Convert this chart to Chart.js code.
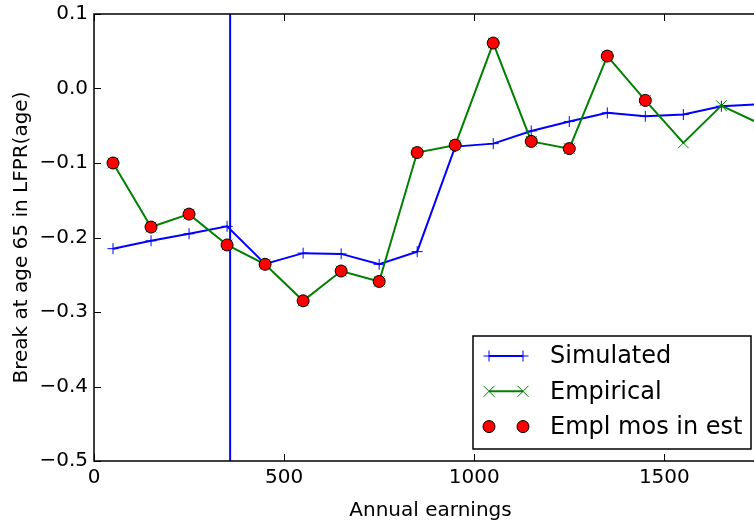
<!DOCTYPE html>
<html lang="en">
<head>
  <meta charset="UTF-8" />
  <title>Break at age 65</title>
  <script src="https://cdn.jsdelivr.net/npm/chart.js"></script>
  <style>
    html, body { margin: 0; padding: 0; background: #fff; overflow: hidden; }
    #wrap { width: 754px; height: 523px; overflow: hidden; }
    #box { width: 780px; height: 523px; }
  </style>
</head>
<body>
  <div id="wrap"><div id="box"><canvas id="chart"></canvas></div></div>

  <script>
    // earnings bins (bin midpoints)
    const earnings = [50, 150, 250, 350, 450, 550, 650, 750, 850, 950, 1050, 1150, 1250, 1350, 1450, 1550, 1650, 1750];
    const simulated = [-0.215, -0.2045, -0.195, -0.185, -0.2355, -0.221, -0.222, -0.236, -0.219, -0.078, -0.074, -0.057, -0.0444, -0.0327, -0.0372, -0.035, -0.0238, -0.021];
    const empirical = [-0.100, -0.186, -0.1686, -0.210, -0.236, -0.285, -0.245, -0.259, -0.086, -0.076, 0.061, -0.071, -0.0807, 0.0435, -0.016, -0.073, -0.023, -0.047];
    // months used in estimation: only the first 15 bins
    const inEst = [true, true, true, true, true, true, true, true, true, true, true, true, true, true, true, false, false, false];
    const vlineX = 358;
    const xTicks = [0, 500, 1000, 1500];
    const yTicks = [-0.5, -0.4, -0.3, -0.2, -0.1, 0.0, 0.1];

    const pts = (ys) => earnings.map((x, i) => ({ x: x, y: ys[i] }));
    const estPts = earnings.map((x, i) => inEst[i] ? { x: x, y: empirical[i] } : null).filter(p => p);

    const FONT = 'DejaVu Sans';

    // matplotlib style frame with inward ticks, plus the legend box
    const framePlugin = {
      id: 'frame',
      afterDraw(chart) {
        const { ctx, chartArea: a, scales } = chart;
        ctx.save();
        ctx.strokeStyle = '#000';
        ctx.lineWidth = 1;
        xTicks.forEach(v => {
          const px = Math.round(scales.x.getPixelForValue(v)) + 0.5;
          ctx.beginPath();
          ctx.moveTo(px, a.bottom); ctx.lineTo(px, a.bottom - 7);
          ctx.moveTo(px, a.top); ctx.lineTo(px, a.top + 7);
          ctx.stroke();
        });
        yTicks.forEach(v => {
          const py = Math.round(scales.y.getPixelForValue(v)) + 0.5;
          ctx.beginPath();
          ctx.moveTo(a.left, py); ctx.lineTo(a.left + 7, py);
          ctx.moveTo(a.right, py); ctx.lineTo(a.right - 7, py);
          ctx.stroke();
        });
        ctx.lineWidth = 1.5;
        ctx.strokeRect(a.left, a.top, a.right - a.left, a.bottom - a.top);

        // legend
        const lx = 473, ly = 336, lw = 278, lh = 113;
        ctx.fillStyle = '#fff';
        ctx.fillRect(lx, ly, lw, lh);
        ctx.lineWidth = 1.5;
        ctx.strokeRect(lx, ly, lw, lh);
        const rows = [
          { label: 'Simulated', color: '#0000ff', mark: 'plus', line: true },
          { label: 'Empirical', color: '#008000', mark: 'x', line: true },
          { label: 'Empl mos in est', color: '#ff0000', mark: 'dot', line: false }
        ];
        const x1 = 489, x2 = 523;
        rows.forEach((r, i) => {
          const y = 356 + i * 35.3;
          ctx.strokeStyle = r.color;
          if (r.line) {
            ctx.lineWidth = 2;
            ctx.beginPath(); ctx.moveTo(x1, y); ctx.lineTo(x2, y); ctx.stroke();
          }
          [x1, x2].forEach(mx => {
            ctx.lineWidth = 1;
            ctx.beginPath();
            if (r.mark === 'plus') {
              ctx.moveTo(mx - 5.5, y); ctx.lineTo(mx + 5.5, y);
              ctx.moveTo(mx, y - 5.5); ctx.lineTo(mx, y + 5.5);
              ctx.stroke();
            } else if (r.mark === 'x') {
              ctx.moveTo(mx - 5.5, y - 5.5); ctx.lineTo(mx + 5.5, y + 5.5);
              ctx.moveTo(mx - 5.5, y + 5.5); ctx.lineTo(mx + 5.5, y - 5.5);
              ctx.stroke();
            } else {
              ctx.arc(mx, y, 6, 0, Math.PI * 2);
              ctx.fillStyle = r.color;
              ctx.fill();
              ctx.strokeStyle = '#000';
              ctx.stroke();
            }
          });
          ctx.fillStyle = '#000';
          ctx.font = '24px "' + FONT + '"';
          ctx.textBaseline = 'middle';
          ctx.textAlign = 'left';
          ctx.fillText(r.label, 550, y + 1);
        });
        ctx.restore();
      }
    };

    new Chart(document.getElementById('chart'), {
      type: 'scatter',
      data: {
        datasets: [
          {
            label: 'Simulated',
            data: pts(simulated),
            showLine: true,
            borderColor: '#0000ff',
            borderWidth: 2,
            pointStyle: 'cross',
            pointRadius: 5.5,
            pointBorderWidth: 1,
            pointBorderColor: '#0000ff',
            order: 2
          },
          {
            label: 'Empirical',
            data: pts(empirical),
            showLine: true,
            borderColor: '#008000',
            borderWidth: 2,
            pointStyle: 'crossRot',
            pointRadius: 7.5,
            pointBorderWidth: 1,
            pointBorderColor: '#008000',
            order: 1
          },
          {
            label: 'Empl mos in est',
            data: estPts,
            showLine: false,
            pointStyle: 'circle',
            pointRadius: 6,
            pointBackgroundColor: '#ff0000',
            pointBorderColor: '#000',
            pointBorderWidth: 1,
            order: 0
          },
          {
            label: 'cutoff',
            data: [{ x: vlineX, y: -0.5 }, { x: vlineX, y: 0.1 }],
            showLine: true,
            borderColor: '#0000ff',
            borderWidth: 2,
            pointRadius: 0,
            order: 3
          }
        ]
      },
      options: {
        responsive: true,
        maintainAspectRatio: false,
        animation: false,
        events: [],
        layout: { padding: { top: 14, right: 13, left: 0, bottom: 0 } },
        plugins: {
          legend: { display: false },
          tooltip: { enabled: false }
        },
        scales: {
          x: {
            type: 'linear',
            min: 0,
            max: 1770,
            grid: { display: false, drawTicks: false },
            border: { display: false },
            afterBuildTicks: (s) => { s.ticks = xTicks.map(v => ({ value: v })); },
            afterFit: (s) => { s.height = 62; s.paddingLeft = 0; s.paddingRight = 0; },
            ticks: {
              color: '#000',
              padding: 5,
              font: { family: FONT, size: 20 },
              callback: (v) => String(v)
            },
            title: {
              display: true,
              text: 'Annual earnings',
              color: '#000',
              padding: { top: 1, bottom: 0 },
              font: { family: FONT, size: 20 }
            }
          },
          y: {
            type: 'linear',
            min: -0.5,
            max: 0.1,
            grid: { display: false, drawTicks: false },
            border: { display: false },
            afterBuildTicks: (s) => { s.ticks = yTicks.map(v => ({ value: v })); },
            afterFit: (s) => { s.width = 94; s.paddingTop = 0; s.paddingBottom = 0; },
            ticks: {
              color: '#000',
              padding: 6,
              font: { family: FONT, size: 20 },
              callback: (v) => (v < 0 ? '\u2212' : '') + Math.abs(v).toFixed(1)
            },
            title: {
              display: true,
              text: 'Break at age 65 in LFPR(age)',
              color: '#000',
              padding: { top: 10, bottom: 0 },
              font: { family: FONT, size: 20 }
            }
          }
        }
      },
      plugins: [framePlugin]
    });
  </script>
</body>
</html>
